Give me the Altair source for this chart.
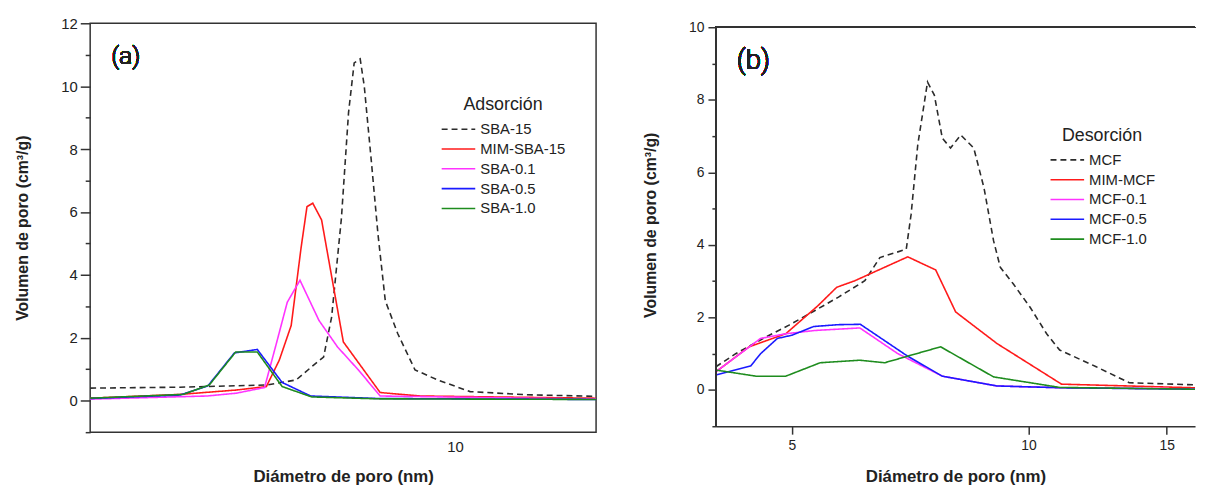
import altair as alt
import pandas as pd

FONT = "Liberation Sans"
TAGFONT = "Roboto"
AX = "#333333"

# ---------------- panel (a): Adsorción ----------------
a_names = ["SBA-15", "MIM-SBA-15", "SBA-0.1", "SBA-0.5", "SBA-1.0"]
a_colors = ["#2b2b2b", "#ff1a1a", "#ff33ff", "#1a1aff", "#1e8c1e"]

sba15_x = [3.5, 4.53, 5.81, 6.33, 6.62, 6.85, 7.01, 7.21, 7.36, 7.48, 7.61, 7.70, 7.86, 8.01, 8.18, 8.48, 8.91, 9.51, 10.44, 12.29, 15.0]
sba15_y = [0.40, 0.43, 0.50, 0.66, 1.08, 1.39, 2.66, 5.80, 9.17, 10.74, 10.87, 10.00, 7.59, 5.29, 3.18, 2.13, 0.98, 0.66, 0.29, 0.19, 0.14]
mimsba_x = [3.5, 4.53, 5.33, 5.81, 6.03, 6.24, 6.42, 6.53, 6.64, 6.81, 7.25, 8.06, 9.06, 15.0]
mimsba_y = [0.08, 0.20, 0.34, 0.45, 1.29, 2.39, 4.86, 6.17, 6.28, 5.75, 1.87, 0.26, 0.15, 0.08]
sba01_x = [3.5, 4.90, 5.33, 5.78, 5.98, 6.17, 6.40, 6.76, 7.13, 7.57, 8.06, 15.0]
sba01_y = [0.05, 0.15, 0.24, 0.42, 1.82, 3.13, 3.83, 2.55, 1.71, 0.98, 0.15, 0.05]
sba05_x = [3.5, 4.53, 4.91, 5.30, 5.66, 6.08, 6.60, 8.01, 15.0]
sba05_y = [0.07, 0.18, 0.47, 1.52, 1.63, 0.58, 0.15, 0.07, 0.04]
sba10_x = [3.5, 4.57, 4.93, 5.32, 5.66, 6.08, 6.62, 8.01, 15.0]
sba10_y = [0.08, 0.20, 0.50, 1.55, 1.55, 0.45, 0.12, 0.06, 0.04]

# ---------------- panel (b): Desorción ----------------
b_names = ["MCF", "MIM-MCF", "MCF-0.1", "MCF-0.5", "MCF-1.0"]
b_colors = a_colors

mcf_x = [4.0, 4.24, 4.63, 4.95, 5.35, 5.73, 6.19, 6.47, 6.99, 7.09, 7.23, 7.44, 7.59, 7.77, 7.96, 8.20, 8.52, 8.78, 9.03, 9.21, 9.57, 10.05, 10.55, 10.96, 12.20, 13.44, 16.3]
mcf_y = [0.64, 1.00, 1.46, 1.78, 2.19, 2.56, 3.01, 3.65, 3.88, 4.84, 6.76, 8.49, 8.13, 6.94, 6.67, 7.03, 6.67, 5.57, 4.11, 3.38, 2.92, 2.28, 1.55, 1.10, 0.64, 0.20, 0.14]
mimmcf_x = [4.0, 4.41, 4.91, 5.40, 5.70, 6.01, 7.02, 7.62, 8.08, 9.12, 11.02, 16.3]
mimmcf_y = [0.50, 1.19, 1.55, 2.33, 2.83, 3.01, 3.67, 3.31, 2.15, 1.28, 0.16, 0.06]
mcf01_x = [4.0, 4.56, 4.91, 5.35, 6.10, 6.82, 7.77, 9.12, 11.02, 16.3]
mcf01_y = [0.50, 1.42, 1.55, 1.64, 1.71, 1.00, 0.38, 0.11, 0.06, 0.03]
mcf05_x = [4.0, 4.43, 4.56, 4.79, 5.00, 5.33, 5.73, 6.11, 7.02, 7.77, 9.12, 11.02, 16.3]
mcf05_y = [0.41, 0.66, 1.00, 1.42, 1.51, 1.75, 1.80, 1.81, 0.93, 0.38, 0.11, 0.06, 0.02]
mcf10_x = [4.0, 4.50, 4.91, 5.43, 6.10, 6.56, 7.73, 9.03, 10.96, 16.3]
mcf10_y = [0.55, 0.38, 0.38, 0.75, 0.82, 0.75, 1.19, 0.36, 0.07, 0.02]

dash_range = [[6, 4], [1, 0], [1, 0], [1, 0], [1, 0]]


def frame(names, xs, ys):
    rows = []
    for n, xv, yv in zip(names, xs, ys):
        for i, (a, b) in enumerate(zip(xv, yv)):
            rows.append({"serie": n, "d": a, "v": b, "o": i})
    return pd.DataFrame(rows)


df_a = frame(a_names, [sba15_x, mimsba_x, sba01_x, sba05_x, sba10_x],
             [sba15_y, mimsba_y, sba01_y, sba05_y, sba10_y])
df_b = frame(b_names, [mcf_x, mimmcf_x, mcf01_x, mcf05_x, mcf10_x],
             [mcf_y, mimmcf_y, mcf01_y, mcf05_y, mcf10_y])

YTITLE = "Volumen de poro (cm³/g)"
XTITLE = "Diámetro de poro (nm)"
LABEL_EXPR = "datum.value >= 0 && datum.value % 2 == 0 ? datum.label : ''"


def tick_size(major, minor):
    return {"condition": {"test": "datum.value % 2 == 0", "value": major}, "value": minor}


def legend(title, lx, ly):
    return alt.Legend(
        title=title, orient="none", legendX=lx, legendY=ly,
        symbolType="stroke", symbolSize=1150, symbolStrokeWidth=1.6,
        labelFont=FONT, labelFontSize=15, labelColor="#222", labelOffset=4,
        titleFont=FONT, titleFontSize=18, titleFontWeight="normal", titleColor="#222",
        titleAnchor="middle", titlePadding=6, rowPadding=2, clipHeight=18,
    )


# ---------- left panel ----------
xa = alt.X("d:Q", scale=alt.Scale(type="log", domain=[3.5, 15], nice=False),
           axis=alt.Axis(values=[10], ticks=False, domain=False, grid=False,
                         labelFont=FONT, labelFontSize=15, labelColor="#222", labelPadding=8,
                         title=XTITLE, titleFont=FONT, titleFontSize=17, titleFontWeight="bold",
                         titleColor="#222", titlePadding=14))
ya = alt.Y("v:Q", scale=alt.Scale(domain=[-1, 12], nice=False, zero=False),
           axis=alt.Axis(values=list(range(-1, 13)), labelExpr=LABEL_EXPR, tickSize=tick_size(10, 5),
                         tickColor=AX, tickWidth=1.5, domain=False, grid=False,
                         labelFont=FONT, labelFontSize=15, labelColor="#222", labelPadding=3,
                         title=YTITLE, titleFont=FONT, titleFontSize=16, titleFontWeight="bold",
                         titleColor="#222", titlePadding=31))
lines_a = alt.Chart(df_a).mark_line(strokeWidth=1.6, clip=True).encode(
    x=xa, y=ya,
    color=alt.Color("serie:N", scale=alt.Scale(domain=a_names, range=a_colors),
                    legend=legend("Adsorción", 354, 74)),
    strokeDash=alt.StrokeDash("serie:N", scale=alt.Scale(domain=a_names, range=dash_range),
                              legend=legend("Adsorción", 354, 74)),
    order="o:Q",
)
tag_a = alt.Chart(df_a).mark_text(font=TAGFONT, fontSize=25, fontWeight=300, color="#222").encode(
    x=alt.value(36), y=alt.value(33), text=alt.value("(a)"))
left = alt.layer(lines_a, tag_a).properties(
    width=511, height=413,
    view=alt.ViewBackground(stroke=AX, strokeWidth=1.5),
)

# ---------- right panel ----------
RW, RH, RTOP = 484, 407, 4          # plot size; frame top sits RTOP px below the view top
y_top = 10 + RTOP * 11 / (RH - RTOP)
xb = alt.X("d:Q", scale=alt.Scale(type="log", domain=[4.0, 16.3], nice=False),
           axis=alt.Axis(values=[5, 10, 15], tickSize=8, tickColor=AX, tickWidth=1.5,
                         domain=True, domainColor=AX, domainWidth=1.5, grid=False,
                         labelFont=FONT, labelFontSize=14, labelColor="#222", labelPadding=5,
                         title=XTITLE, titleFont=FONT, titleFontSize=17, titleFontWeight="bold",
                         titleColor="#222", titlePadding=16))
yb = alt.Y("v:Q", scale=alt.Scale(domain=[-1, y_top], nice=False, zero=False),
           axis=alt.Axis(values=list(range(-1, 11)), labelExpr=LABEL_EXPR, tickSize=tick_size(8, 4),
                         tickColor=AX, tickWidth=1.5, domain=False, grid=False,
                         labelFont=FONT, labelFontSize=14, labelColor="#222", labelPadding=4,
                         title=YTITLE, titleFont=FONT, titleFontSize=16, titleFontWeight="bold",
                         titleColor="#222", titlePadding=30))
lines_b = alt.Chart(df_b).mark_line(strokeWidth=1.6, clip=True).encode(
    x=xb, y=yb,
    color=alt.Color("serie:N", scale=alt.Scale(domain=b_names, range=b_colors),
                    legend=legend("Desorción", 337, 105)),
    strokeDash=alt.StrokeDash("serie:N", scale=alt.Scale(domain=b_names, range=dash_range),
                              legend=legend("Desorción", 337, 105)),
    order="o:Q",
)
top_b = alt.Chart(df_b).mark_rule(color=AX, strokeWidth=1.5).encode(
    x=alt.value(0), x2=alt.value(RW), y=alt.value(RTOP))
side_b = alt.Chart(df_b).mark_rule(color=AX, strokeWidth=1.5).encode(
    x=alt.value(0), y=alt.value(RTOP), y2=alt.value(RH))
tag_b = alt.Chart(df_b).mark_text(font=TAGFONT, fontSize=28, fontWeight=300, color="#222").encode(
    x=alt.value(38), y=alt.value(RTOP + 34), text=alt.value("(b)"))
right = alt.layer(lines_b, top_b, side_b, tag_b).properties(
    width=RW, height=RH,
    view=alt.ViewBackground(stroke="transparent"),
)

chart = alt.hconcat(left, right, spacing=45).resolve_scale(
    color="independent", strokeDash="independent"
).resolve_legend(color="independent", strokeDash="independent").properties(
    background="white",
    padding={"left": 5, "top": 5, "right": 2, "bottom": 5},
)

chart.save("out.html", embed_options={"renderer": "svg", "actions": False})
